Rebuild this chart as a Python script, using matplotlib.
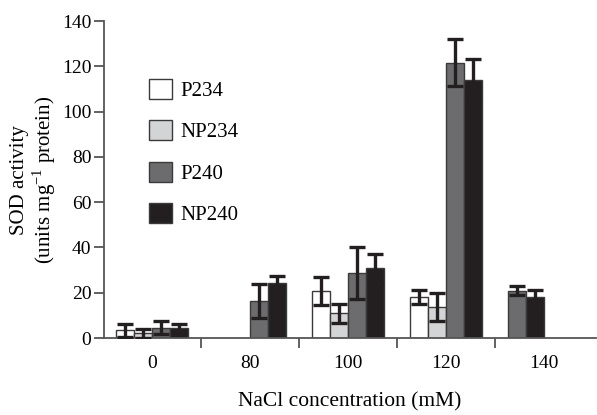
import matplotlib.pyplot as plt
import numpy as np

plt.rcParams['font.family'] = ['Liberation Serif', 'DejaVu Serif']
plt.rcParams['mathtext.fontset'] = 'custom'
plt.rcParams['mathtext.rm'] = 'Liberation Serif'

groups = ['0', '80', '100', '120', '140']
nan = np.nan

p234 = [3.4, nan, 20.9, 18.2, nan]
p234_err = [2.9, nan, 6.1, 3.0, nan]
np234 = [2.0, nan, 10.9, 13.8, nan]
np234_err = [1.8, nan, 4.3, 6.3, nan]
p240 = [4.6, 16.5, 28.8, 121.6, 20.9]
p240_err = [2.9, 7.5, 11.5, 10.3, 1.9]
np240 = [4.6, 24.5, 30.8, 113.9, 18.2]
np240_err = [1.7, 2.9, 6.3, 9.2, 3.0]

series = [
    ('P234', p234, p234_err, 'white'),
    ('NP234', np234, np234_err, '#d3d4d5'),
    ('P240', p240, p240_err, '#6c6c6e'),
    ('NP240', np240, np240_err, '#231f20'),
]

fig = plt.figure(figsize=(5.97, 4.15), dpi=100)
ax = fig.add_axes([0.174, 0.1855, 0.824, 0.7635])

x = np.arange(len(groups))
w = 0.184
for k, (name, vals, errs, col) in enumerate(series):
    pos = x + (k - 1.5) * w
    # in the 140 group the two bars sit in the first two slots
    if k >= 2:
        pos[-1] -= 2 * w
    ax.bar(pos, vals, w, color=col, edgecolor='#3a3a3a', linewidth=1.0,
           label=name, zorder=2)
    ax.errorbar(pos, vals, yerr=errs, fmt='none', ecolor='#231f20',
                elinewidth=2.4, capsize=6, capthick=2.4, zorder=3)

ax.set_xlim(-0.49, 4.53)
ax.set_ylim(0, 140)
ax.set_yticks(np.arange(0, 141, 20))
ax.set_xticks(x)
ax.set_xticklabels(groups)
ax.set_xticks(x[:-1] + 0.5, minor=True)
ax.tick_params(axis='x', which='major', length=0, pad=12, labelsize=14)
ax.tick_params(axis='x', which='minor', length=7, width=1.3,
               direction='out', color='#555555')
ax.tick_params(axis='y', length=7, width=1.3, color='#555555', labelsize=14,
               pad=2)

for s in ['top', 'right']:
    ax.spines[s].set_visible(False)
for s in ['left', 'bottom']:
    ax.spines[s].set_color('#555555')
    ax.spines[s].set_linewidth(1.3)

ax.set_ylabel('SOD activity\n(units mg$^{-1}$ protein)', fontsize=15,
              linespacing=1.05, labelpad=3)
ax.set_xlabel('NaCl concentration (mM)', fontsize=15.5, labelpad=15)

ax.legend(loc='upper left', bbox_to_anchor=(0.075, 0.845), frameon=False,
          fontsize=15, handlelength=1.1, handleheight=1.1, labelspacing=0.93,
          handletextpad=0.4, borderaxespad=0)

plt.savefig('out.png')
